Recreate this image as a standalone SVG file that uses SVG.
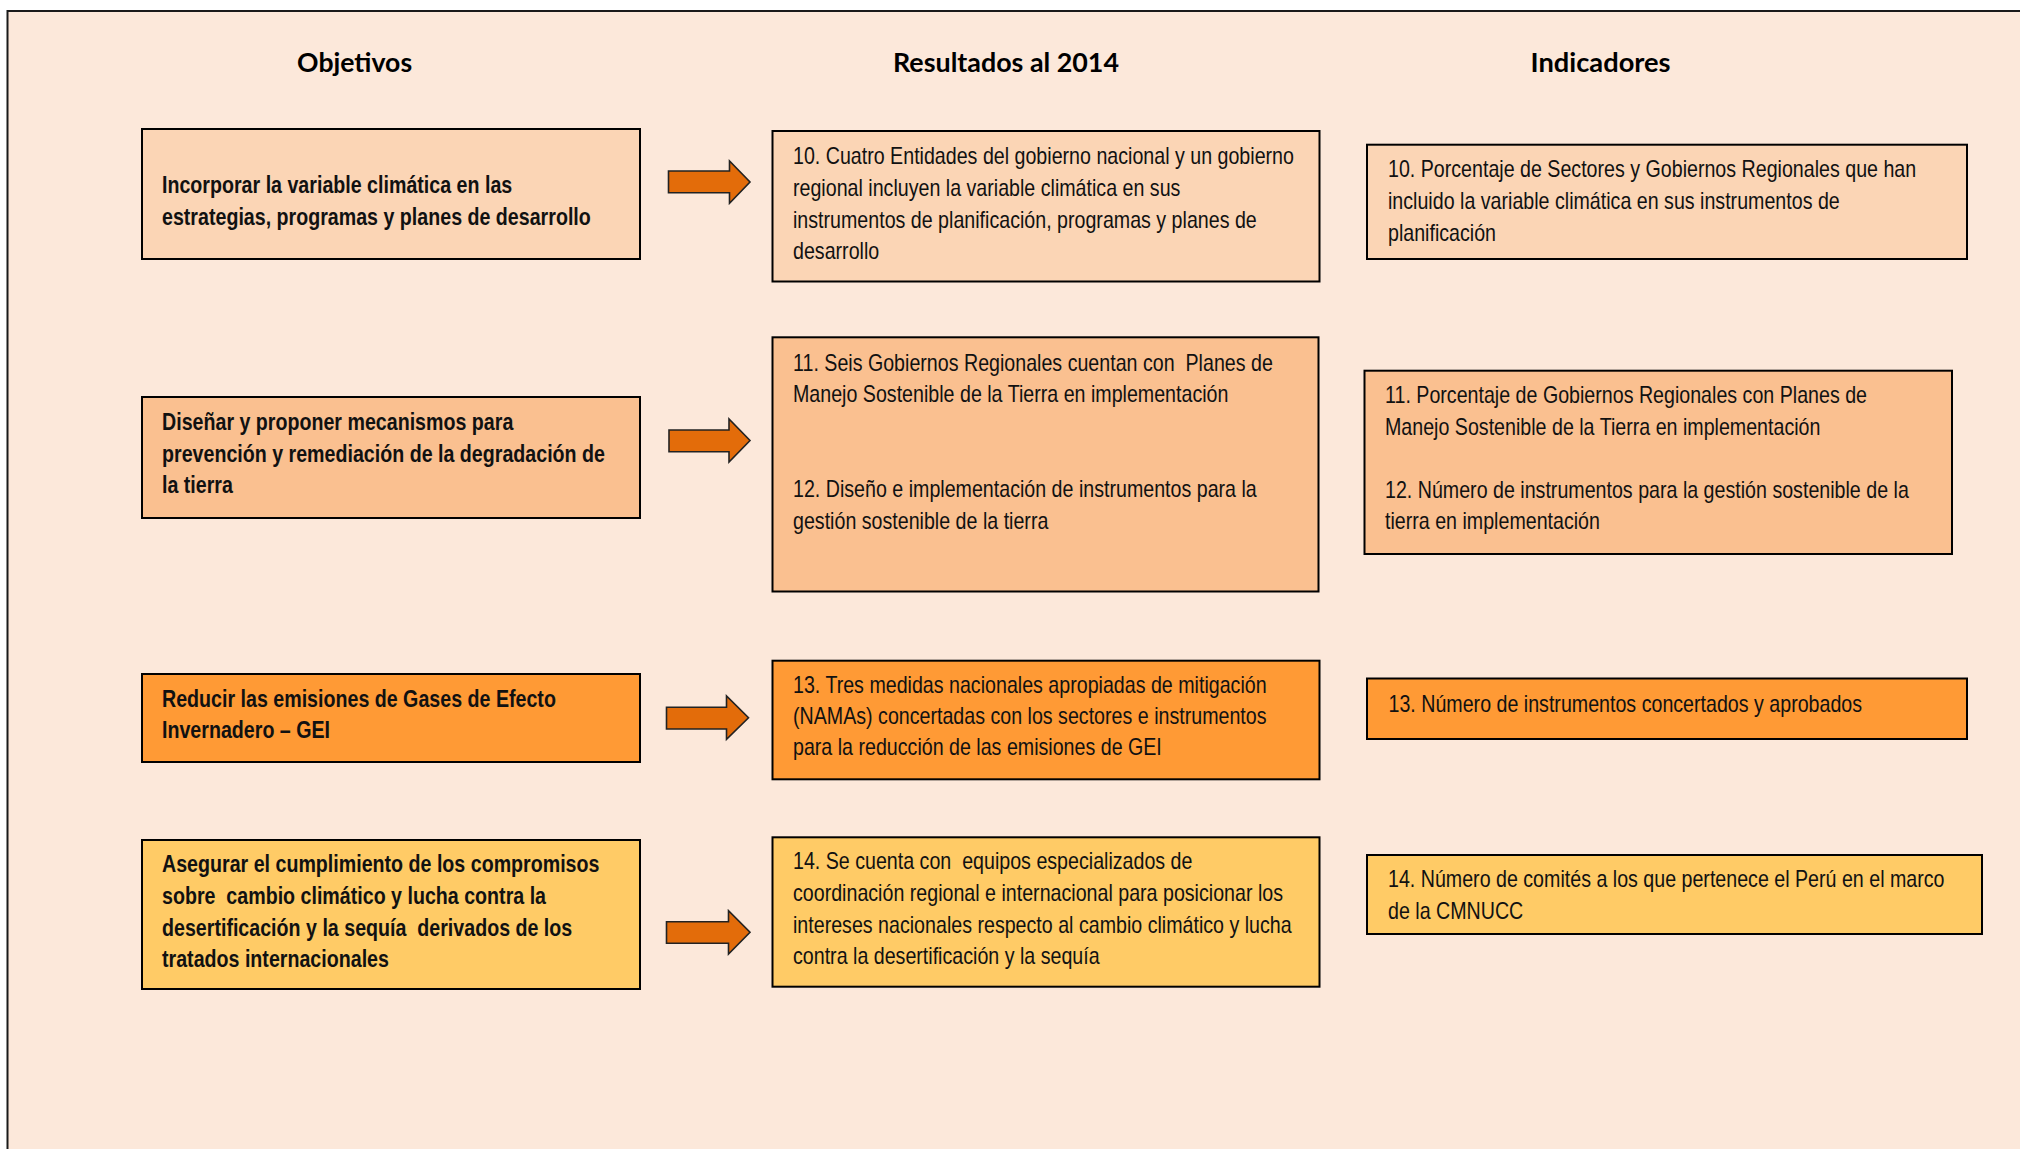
<svg xmlns="http://www.w3.org/2000/svg" width="2020" height="1149" viewBox="0 0 2020 1149">
<style>
.frame{fill:#FCE8DA;stroke:#1a1a1a;stroke-width:2}
.box{stroke:#000;stroke-width:2}
.r1{fill:#FBD5B5}.r2{fill:#FAC090}.r3{fill:#FF9A35}.r4{fill:#FFCB66}
.arrow{fill:#E36C0A;stroke:#222;stroke-width:1.6;stroke-linejoin:miter}
.hd{font-family:Lato,"Open Sans",sans-serif;font-weight:bold;font-size:26px;fill:#000;text-anchor:middle}
.t{font-family:"Liberation Sans",Arial,sans-serif;font-size:23px;fill:#111;white-space:pre}
.b{font-weight:bold}
</style>
<rect x="0" y="0" width="2020" height="1149" fill="#ffffff"/>
<rect class="frame" x="7.5" y="11" width="2040" height="1160"/>
<g id="headers">
<text class="hd" x="354.6" y="71.7" textLength="115" lengthAdjust="spacingAndGlyphs">Objetivos</text>
<text class="hd" x="1006" y="71.7" textLength="226" lengthAdjust="spacingAndGlyphs">Resultados al 2014</text>
<text class="hd" x="1600.6" y="71.7" textLength="140" lengthAdjust="spacingAndGlyphs">Indicadores</text>
</g>
<g id="obj1">
<rect class="box r1" x="142" y="129" width="498" height="130"/>
<g transform="matrix(0.854,0,0,1,162,0)">
<text class="t b" x="0" y="193">Incorporar la variable climática en las</text>
<text class="t b" x="0" y="225.5">estrategias, programas y planes de desarrollo</text>
</g>
</g>
<g id="obj2">
<rect class="box r2" x="142" y="397" width="498" height="121"/>
<g transform="matrix(0.854,0,0,1,162,0)">
<text class="t b" x="0" y="430">Diseñar y proponer mecanismos para</text>
<text class="t b" x="0" y="462">prevención y remediación de la degradación de</text>
<text class="t b" x="0" y="493.5">la tierra</text>
</g>
</g>
<g id="obj3">
<rect class="box r3" x="142" y="674" width="498" height="88"/>
<g transform="matrix(0.854,0,0,1,162,0)">
<text class="t b" x="0" y="707">Reducir las emisiones de Gases de Efecto</text>
<text class="t b" x="0" y="738.5">Invernadero – GEI</text>
</g>
</g>
<g id="obj4">
<rect class="box r4" x="142" y="840" width="498" height="149"/>
<g transform="matrix(0.854,0,0,1,162,0)">
<text class="t b" x="0" y="871.7">Asegurar el cumplimiento de los compromisos</text>
<text class="t b" x="0" y="904">sobre  cambio climático y lucha contra la</text>
<text class="t b" x="0" y="936">desertificación y la sequía  derivados de los</text>
<text class="t b" x="0" y="967.5">tratados internacionales</text>
</g>
</g>
<g id="res10">
<rect class="box r1" x="772.5" y="131" width="547" height="150.5"/>
<g transform="matrix(0.854,0,0,1,793,0)">
<text class="t" x="0" y="164">10. Cuatro Entidades del gobierno nacional y un gobierno</text>
<text class="t" x="0" y="196">regional incluyen la variable climática en sus</text>
<text class="t" x="0" y="228">instrumentos de planificación, programas y planes de</text>
<text class="t" x="0" y="259.5">desarrollo</text>
</g>
</g>
<g id="res11-12">
<rect class="box r2" x="772.5" y="337.3" width="546" height="254.2"/>
<g transform="matrix(0.854,0,0,1,793,0)">
<text class="t" x="0" y="371.5">11. Seis Gobiernos Regionales cuentan con  Planes de</text>
<text class="t" x="0" y="402.5">Manejo Sostenible de la Tierra en implementación</text>
<text class="t" x="0" y="497.5">12. Diseño e implementación de instrumentos para la</text>
<text class="t" x="0" y="529">gestión sostenible de la tierra</text>
</g>
</g>
<g id="res13">
<rect class="box r3" x="772.5" y="660.7" width="547" height="118.6"/>
<g transform="matrix(0.854,0,0,1,793,0)">
<text class="t" x="0" y="693.3">13. Tres medidas nacionales apropiadas de mitigación</text>
<text class="t" x="0" y="724.5">(NAMAs) concertadas con los sectores e instrumentos</text>
<text class="t" x="0" y="755.5">para la reducción de las emisiones de GEI</text>
</g>
</g>
<g id="res14">
<rect class="box r4" x="772.5" y="837.3" width="547" height="149.4"/>
<g transform="matrix(0.854,0,0,1,793,0)">
<text class="t" x="0" y="869.3">14. Se cuenta con  equipos especializados de</text>
<text class="t" x="0" y="900.7">coordinación regional e internacional para posicionar los</text>
<text class="t" x="0" y="932.7">intereses nacionales respecto al cambio climático y lucha</text>
<text class="t" x="0" y="964">contra la desertificación y la sequía</text>
</g>
</g>
<g id="ind10">
<rect class="box r1" x="1367" y="144.7" width="600" height="114.3"/>
<g transform="matrix(0.854,0,0,1,1388,0)">
<text class="t" x="0" y="176.7">10. Porcentaje de Sectores y Gobiernos Regionales que han</text>
<text class="t" x="0" y="209.3">incluido la variable climática en sus instrumentos de</text>
<text class="t" x="0" y="241">planificación</text>
</g>
</g>
<g id="ind11-12">
<rect class="box r2" x="1364.5" y="370.7" width="587.5" height="183.3"/>
<g transform="matrix(0.854,0,0,1,1385,0)">
<text class="t" x="0" y="403.3">11. Porcentaje de Gobiernos Regionales con Planes de</text>
<text class="t" x="0" y="435">Manejo Sostenible de la Tierra en implementación</text>
<text class="t" x="0" y="498.3">12. Número de instrumentos para la gestión sostenible de la</text>
<text class="t" x="0" y="529.3">tierra en implementación</text>
</g>
</g>
<g id="ind13">
<rect class="box r3" x="1367" y="678.5" width="600" height="60.5"/>
<g transform="matrix(0.854,0,0,1,1388.5,0)">
<text class="t" x="0" y="711.7">13. Número de instrumentos concertados y aprobados</text>
</g>
</g>
<g id="ind14">
<rect class="box r4" x="1367" y="855" width="615" height="79"/>
<g transform="matrix(0.854,0,0,1,1388,0)">
<text class="t" x="0" y="887.3">14. Número de comités a los que pertenece el Perú en el marco</text>
<text class="t" x="0" y="919">de la CMNUCC</text>
</g>
</g>
<g id="connectors">
<polygon class="arrow" points="668.5,171 729.5,171 729.5,161 750,182 729.5,203.3 729.5,192.7 668.5,192.7"/>
<polygon class="arrow" points="669,430 729,430 729,419 750,440.5 729,462 729,451.7 669,451.7"/>
<polygon class="arrow" points="666.5,707.3 726.5,707.3 726.5,696 748.5,717.7 726.5,739.3 726.5,729 666.5,729"/>
<polygon class="arrow" points="666.5,921.7 728.5,921.7 728.5,910.7 750,932.3 728.5,954 728.5,943.3 666.5,943.3"/>
</g>
</svg>
